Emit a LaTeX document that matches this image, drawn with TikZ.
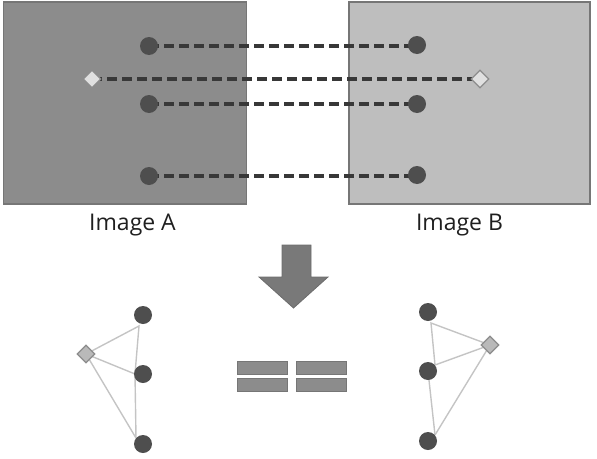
\documentclass[tikz,border=0pt]{standalone}
\usepackage{fontspec}
\setmainfont{Open Sans}
\usetikzlibrary{shapes.geometric}
\definecolor{panelA}{HTML}{8C8C8C}
\definecolor{panelB}{HTML}{BEBEBE}
\definecolor{panelEdge}{HTML}{767676}
\definecolor{dotGray}{HTML}{4E4E4E}
\definecolor{linkGray}{HTML}{383838}
\definecolor{edgeGray}{HTML}{C4C4C4}
\tikzset{
  panel/.style={draw=panelEdge, line width=1.2pt, minimum width=#1, minimum height=202pt, inner sep=0pt},
  kp/.style={circle, fill=dotGray, minimum size=18pt, inner sep=0pt},
  cpt/.style={diamond, draw=gray!90, fill=#1, line width=1.2pt, minimum size=18pt, inner sep=0pt},
  link/.style={draw=linkGray, line width=3.2pt, dash pattern=on 10pt off 5pt},
  edge/.style={draw=edgeGray, line width=1.4pt},
  bar/.style={draw=panelEdge, fill=panelA, line width=1pt, minimum width=50pt, minimum height=13pt, inner sep=0pt},
  caption/.style={font=\fontsize{23}{23}\selectfont, text=black!88, inner sep=0pt},
  bigarrow/.style={fill=gray!95!black, draw=gray!85!black, line width=0.8pt}
}
\begin{document}
\begin{tikzpicture}[x=1pt,y=-1pt]
\useasboundingbox (0,0) rectangle (597,458);
% source and target panels
\node[panel=243pt, fill=panelA] (imgA) at (125,103) {};
\node[panel=241pt, fill=panelB] (imgB) at (469.5,103) {};
\node[caption] (capA) at (132.5,225) {Image A};
\node[caption] (capB) at (459.5,225) {Image B};
% keypoints
\coordinate (a1) at (149,46);
\coordinate (a2) at (149,104);
\coordinate (a3) at (149,176);
\coordinate (ad) at (92,79);
\coordinate (b1) at (417,45);
\coordinate (b2) at (417,104);
\coordinate (b3) at (417,175);
\coordinate (bd) at (480,79);
\draw[link] (a1) -- (a1 -| b1);
\draw[link] (a2) -- (b2);
\draw[link] (a3) -- (a3 -| b3);
\draw[link] (ad) -- (bd);
\foreach \p in {a1,a2,a3,b1,b2,b3} \node[kp] (n\p) at (\p) {};
\node[cpt=white!88!black] (nad) at (ad) {};
\node[cpt=white!88!black] (nbd) at (bd) {};
% downward block arrow
\draw[bigarrow] (282,245) -- (311,245) -- (311,277) -- (328,277) -- (293.5,308)
  -- (259,277) -- (282,277) -- cycle;
% equivalence sign
\node[bar] (e1) at (262,367.5) {};
\node[bar] (e2) at (321.5,367.5) {};
\node[bar] (e3) at (262,385) {};
\node[bar] (e4) at (321.5,385) {};
% left constellation
\coordinate (l1) at (143,315);
\coordinate (l2) at (143,374);
\coordinate (l3) at (143,444);
\coordinate (ld) at (86,354);
\coordinate (lp1) at (139,326);
\coordinate (lp2) at (135,374);
\coordinate (lp3) at (136,438);
\draw[edge] (ld) -- (lp1) -- (lp2) -- (lp3) -- (ld) -- (lp2);
\foreach \p in {l1,l2,l3} \node[kp] (n\p) at (\p) {};
\node[cpt=gray!55] (nld) at (ld) {};
% right constellation
\coordinate (r1) at (428,312);
\coordinate (r2) at (428,371);
\coordinate (r3) at (428,441);
\coordinate (rd) at (490,345);
\coordinate (rp1) at (431,323);
\coordinate (rp2) at (435,365);
\coordinate (rp3) at (435,435);
\draw[edge] (rd) -- (rp1) -- (rp2) -- (rd) -- (rp3);
\draw[edge] (r2) -- (rp3);
\foreach \p in {r1,r2,r3} \node[kp] (n\p) at (\p) {};
\node[cpt=gray!55] (nrd) at (rd) {};
\end{tikzpicture}
\end{document}
